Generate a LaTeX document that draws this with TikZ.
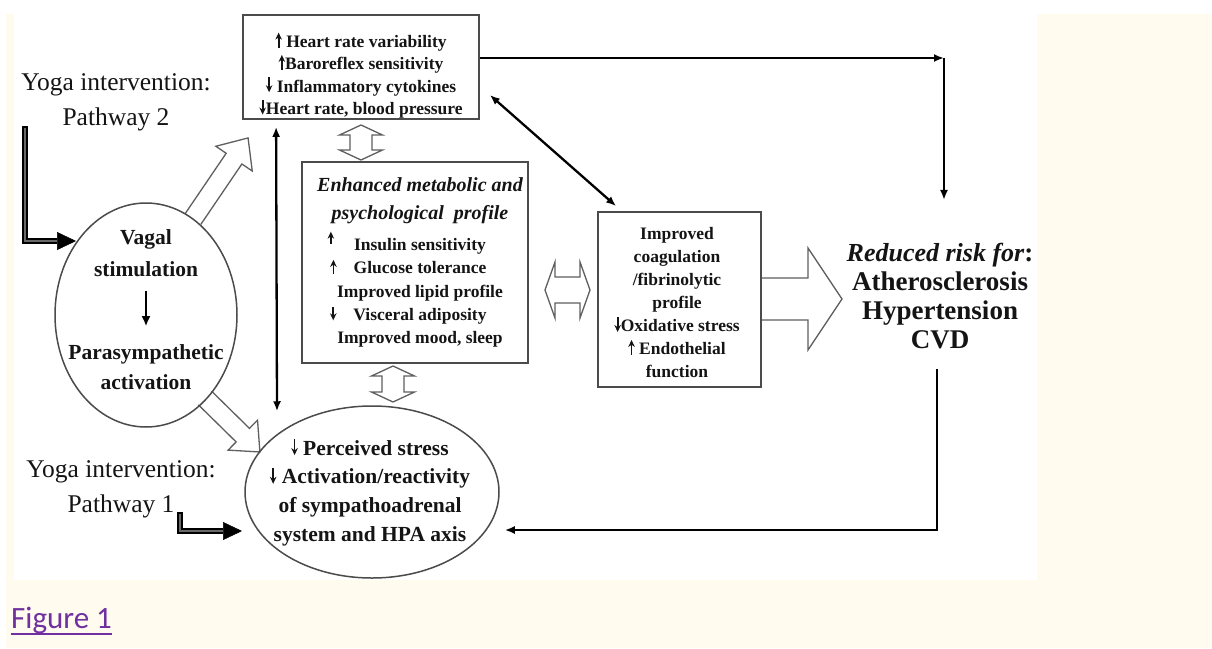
\documentclass[tikz,border=0pt]{standalone}
\usepackage{fontspec}
\setmainfont{Liberation Serif}
\newfontfamily\linkfont{Carlito}
\usetikzlibrary{arrows.meta,shapes.geometric,calc}
\definecolor{cream}{RGB}{255,251,238}
\definecolor{linkpurple}{RGB}{112,48,160}
\definecolor{edgegray}{RGB}{75,75,75}
\definecolor{arrgray}{RGB}{95,95,95}
\definecolor{inkc}{RGB}{20,20,20}
\definecolor{coregray}{RGB}{105,105,105}

\newcommand\myup[1][15]{\tikz[baseline=0pt]\draw[line width=1.8pt,-{Stealth[length=7pt,width=6.5pt]}] (0pt,0pt) -- (0pt,#1pt);}
\newcommand\mydown[1][15]{\tikz[baseline=0pt]\draw[line width=1.8pt,-{Stealth[length=7pt,width=6.5pt]}] (0pt,#1pt) -- (0pt,0pt);}
\newcommand\ulinetext[1]{{\setbox0\hbox{#1}\rlap{\rule[-7pt]{\wd0}{1.8pt}}\box0}}

\newcommand\hollowarr[6]{%
 \begin{scope}[shift={#1},rotate=#2]
 \draw[openarr] (0,-#4) -- ({#3-#6},-#4) -- ({#3-#6},-#5) -- (#3,0) -- ({#3-#6},#5) -- ({#3-#6},#4) -- (0,#4);
 \end{scope}}
\newcommand\hollowdbl[6]{%
 \begin{scope}[shift={#1},rotate=#2]
 \draw[openarr] (0,0) -- (#6,-#5) -- (#6,-#4) -- ({#3-#6},-#4) -- ({#3-#6},-#5) -- (#3,0) -- ({#3-#6},#5) -- ({#3-#6},#4) -- (#6,#4) -- (#6,#5) -- cycle;
 \end{scope}}

\begin{document}
\begin{tikzpicture}[x=1pt,y=-1pt,
  boxst/.style={draw=edgegray,line width=1.8pt,inner sep=0pt},
  ellst/.style={ellipse,draw=edgegray,line width=1.5pt,inner sep=0pt},
  openarr/.style={draw=arrgray,fill=white,line width=1.3pt,line join=miter},
  conn/.style={draw=black,line width=2.3pt},
  tipc/.style={-{Latex[length=10pt,width=8pt]}},
  tipboth/.style={{Latex[length=10pt,width=8pt]}-{Latex[length=10pt,width=8pt]}},
  btext/.style={align=center,inner sep=0pt,text=inkc},
  patharr/.style={draw=black,line width=5.5pt,line join=miter,-{Triangle[length=19pt,width=18pt,line width=0.5pt]}},
  pathcore/.style={draw=coregray,line width=1.3pt,line join=miter}
]
\useasboundingbox (0,0) rectangle (1212,648);
\fill[white] (0,0) rectangle (1212,648);
\fill[cream] (6,14) rectangle (1212,648);
\fill[white] (14,14) rectangle (1037,580);

% hollow block arrows
\hollowarr{(193,219)}{55.8}{98}{9.5}{22}{25}
\hollowarr{(205,398)}{-44.5}{77}{9.5}{21}{24}
\hollowdbl{(361,125)}{-90}{35}{11}{21.5}{10}
\hollowdbl{(393,366)}{-90}{36}{11}{21.5}{10}
\hollowdbl{(545,290)}{0}{45}{13}{28}{10}
\hollowarr{(761,299)}{0}{81}{21}{51}{34}

% boxes and ellipses
\node[boxst,minimum width=236pt,minimum height=104pt] (hrvbox) at (361,67) {};
\node[boxst,minimum width=226pt,minimum height=201pt] (metabox) at (415,262.5) {};
\node[boxst,minimum width=163pt,minimum height=175pt] (coag) at (679.5,299.5) {};
\node[ellst,minimum width=182pt,minimum height=224pt] (vagell) at (146,315) {};
\node[ellst,minimum width=254pt,minimum height=172pt] (stressell) at (372,492) {};

% texts
\node[btext,font=\fontsize{17.5}{22.3}\selectfont\bfseries] (hrvtxt) at (361,75)
 {\myup\ Heart rate variability\\\myup Baroreflex sensitivity\\\mydown\ Inflammatory cytokines\\\mydown Heart rate, blood pressure};
\node[btext,font=\fontsize{20}{28}\selectfont\bfseries\itshape] (metahead) at (420,201)
 {Enhanced metabolic and\\psychological\ \ profile};
\node[btext,font=\fontsize{17.5}{23.2}\selectfont\bfseries] (metaitems) at (420,289)
 {\llap{\raisebox{7pt}{\myup[12]}\hspace{20pt}}Insulin sensitivity\\\llap{\myup[14]\hspace{17pt}}Glucose tolerance\\Improved lipid profile\\\llap{\mydown[13]\hspace{17pt}}Visceral adiposity\\Improved mood, sleep};
\node[btext,font=\fontsize{17.5}{23}\selectfont\bfseries] (coagtxt) at (677,303)
 {Improved\\coagulation\\/fibrinolytic\\profile\\\mydown[15]Oxidative stress\\\myup[15]\ Endothelial\\function};
\node[btext,font=\fontsize{27}{29}\selectfont\bfseries] (risk) at (940,296)
 {{\fontsize{26}{29}\selectfont\itshape Reduced risk for}:\\Atherosclerosis\\Hypertension\\CVD};
\node[btext,font=\fontsize{21.5}{32}\selectfont\bfseries] (vag) at (146,253) {Vagal\\stimulation};
\node[btext,font=\fontsize{21.5}{30}\selectfont\bfseries] (para) at (146,367) {Parasympathetic\\activation};
\node[btext,font=\fontsize{21.5}{28.7}\selectfont\bfseries] (stresstxt) at (370,492)
 {\mydown[16]\ Perceived stress\\\mydown[16]\ Activation/reactivity\\of sympathoadrenal\\system and HPA axis};
\node[btext,font=\fontsize{25.5}{35}\selectfont] (yoga2) at (116,102) {Yoga intervention:\\Pathway 2};
\node[btext,font=\fontsize{25.5}{35}\selectfont] (yoga1) at (121,489) {Yoga intervention:\\Pathway 1};
\node[anchor=base west,inner sep=0pt,text=linkpurple,font=\linkfont\fontsize{31}{36}\selectfont] (figlink) at (11,628) {\ulinetext{Figure 1}};

% vagal -> parasympathetic
\draw[line width=2.2pt,-{Latex[length=10pt,width=9pt]},shorten <=14pt,shorten >=18pt] (vag.south) -- (para.north);

% pathway arrows
\coordinate (p2a) at (25,126);
\coordinate (p2b) at (76,241);
\draw[patharr] (p2a) |- (p2b);
\draw[pathcore] ($(p2a)+(0,2)$) |- ($(p2b)+(-19,0)$);
\coordinate (p1a) at (180,512);
\coordinate (p1b) at (242,531);
\draw[patharr] (p1a) |- (p1b);
\draw[pathcore] ($(p1a)+(0,2)$) |- ($(p1b)+(-19,0)$);

% connectors
\coordinate (tcorner) at (944,58);
\draw[conn,tipc] (hrvbox.east |- tcorner) -- (tcorner);
\draw[conn,tipc,shorten >=43pt] (tcorner) -- (tcorner |- risk.north);
\draw[conn,tipc] ($(risk.south)+(-3,20)$) |- ($(stressell.east)+(5,38)$);
\draw[conn,tipboth] ($(hrvbox.east)+(10,28)$) -- ($(coag.north west)+(19,-5)$);
\draw[conn,tipboth] ($(hrvbox.south west)+(34,7)$) -- ($(stressell.north)+(-95,6)$);
\end{tikzpicture}
\end{document}
